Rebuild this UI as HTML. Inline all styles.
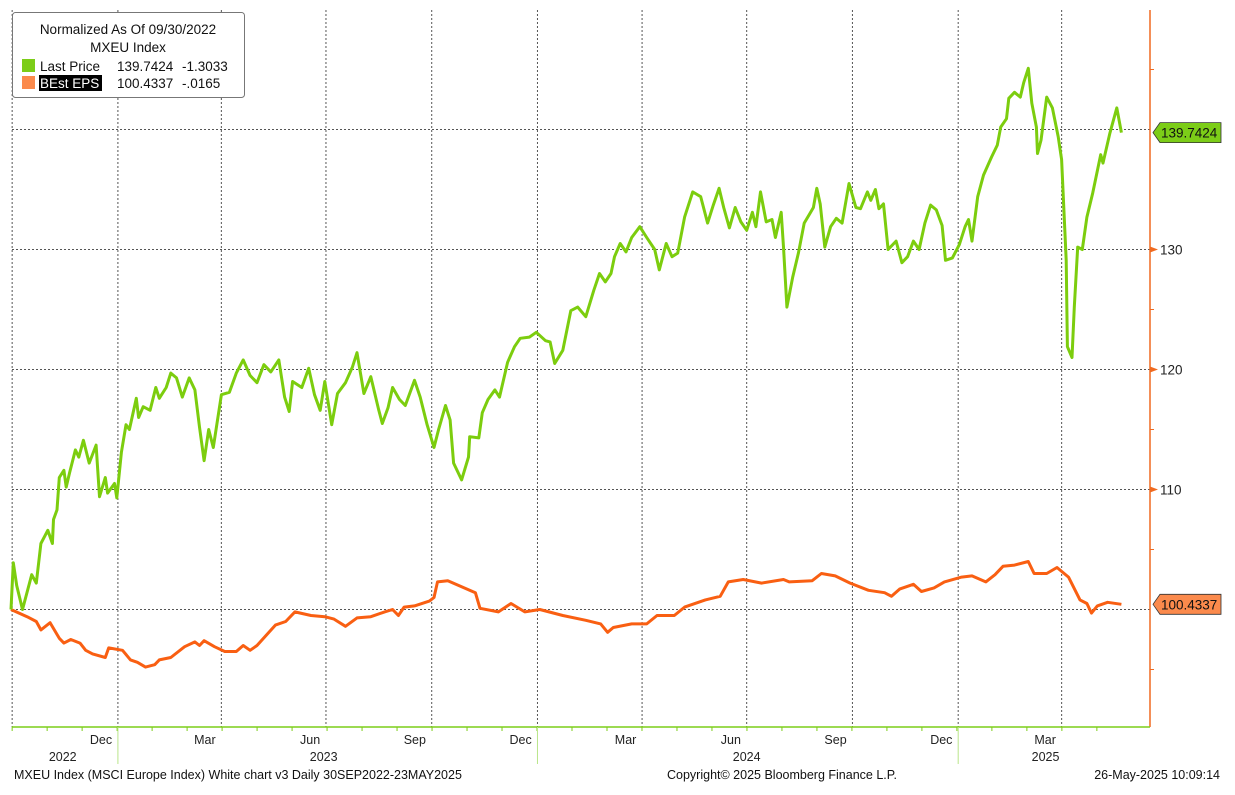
<!DOCTYPE html>
<html><head><meta charset="utf-8"><style>
html,body{margin:0;padding:0;background:#fff;}
svg{display:block;font-family:"Liberation Sans","DejaVu Sans",sans-serif;}
</style></head><body>
<svg id="chart" width="1235" height="795" viewBox="0 0 1235 795" xmlns="http://www.w3.org/2000/svg">
<g id="grid"></g>
<g id="series"></g>
<g id="axes"></g>
<g>
  <rect x="12.5" y="12.5" width="232" height="85" rx="3" fill="#fff" stroke="#777" stroke-width="1"/>
  <text x="128" y="34" font-size="13.5" text-anchor="middle" fill="#111">Normalized As Of 09/30/2022</text>
  <text x="128" y="52" font-size="13.5" text-anchor="middle" fill="#111">MXEU Index</text>
  <rect x="22" y="59" width="13" height="13" fill="#7ccd18"/>
  <text x="40" y="71" font-size="13.5" fill="#111">Last Price</text>
  <text x="117" y="71" font-size="13.5" fill="#111">139.7424</text>
  <text x="182" y="71" font-size="13.5" fill="#111">-1.3033</text>
  <rect x="22" y="76" width="13" height="13" fill="#fb8a4c"/>
  <rect x="39" y="75" width="63" height="16" fill="#000"/>
  <text x="40" y="88" font-size="13.5" fill="#fff">BEst EPS</text>
  <text x="117" y="88" font-size="13.5" fill="#111">100.4337</text>
  <text x="182" y="88" font-size="13.5" fill="#111">-.0165</text>
</g>
<text x="14" y="779" font-size="12.5" fill="#111">MXEU Index (MSCI Europe Index) White chart v3  Daily 30SEP2022-23MAY2025</text>
<text x="667" y="779" font-size="12.5" fill="#111">Copyright© 2025 Bloomberg Finance L.P.</text>
<text x="1220" y="779" font-size="12.5" fill="#111" text-anchor="end">26-May-2025 10:09:14</text>
</svg>
<script>
// day offsets from 2022-09-30 and values
const priceDays = [0,2,5,10,18,22,26,32,36,37,40,42,46,48,51,56,59,63,68,74,77,82,84,90,92,96,100,103,109,111,115,121,126,129,135,139,144,149,155,160,164,168,172,176,180,183,190,196,202,208,214,220,226,233,238,242,245,253,259,264,269,273,279,284,291,297,301,307,313,320,323,328,332,338,343,351,356,362,368,372,378,382,385,392,398,399,407,410,415,421,425,432,438,443,451,457,465,469,473,480,487,493,500,507,512,517,522,525,530,535,540,547,553,560,564,570,575,580,586,593,600,606,611,616,620,625,630,635,640,645,648,652,657,662,665,670,672,675,680,685,690,695,698,701,704,708,713,718,723,729,735,739,745,748,752,755,759,763,770,775,780,785,790,795,800,805,810,813,819,825,830,833,836,841,846,853,858,861,866,868,873,878,881,885,888,892,893,896,901,906,911,914,918,919,923,925,928,932,936,941,948,950,956,962,966];
const priceValues = [100,103.9,102,100,102.9,102.2,105.5,106.6,105.5,107.5,108.3,111,111.6,110.2,111.4,113.3,112.7,114.1,112.2,113.7,109.4,111,109.7,110.5,109.3,113.1,115.4,115,117.6,116,116.9,116.6,118.5,117.6,118.5,119.7,119.3,117.7,119.3,118.3,115.2,112.4,115,113.5,116,117.9,118.1,119.7,120.8,119.5,118.9,120.4,119.8,120.8,117.7,116.5,119,118.5,120.1,117.9,116.6,119,115.4,118,118.9,120.2,121.4,118,119.4,116.6,115.5,116.8,118.5,117.5,117,119.1,117.7,115.4,113.5,115,117,115.8,112.2,110.8,112.7,114.4,114.3,116.4,117.5,118.3,117.7,120.6,121.9,122.6,122.7,123.1,122.4,122.3,120.5,121.6,124.9,125.2,124.4,126.6,128,127.3,128,129.4,130.5,129.8,131,131.9,131,130,128.3,130.5,129.4,129.7,132.7,134.8,134.4,132.2,133.7,135.1,133.5,131.8,133.5,132.3,131.6,133.1,131.9,134.8,132.3,132.5,131,133.1,130.2,125.2,127.7,129.7,132.2,133,133.5,135.1,133.8,130.2,131.9,132.6,132.2,135.5,133.5,133.4,134.8,134.1,135,133.4,133.8,130,130.7,128.9,129.4,130.7,130,132.2,133.7,133.3,132,129.1,129.3,130.4,131.9,132.5,130.7,134.4,136.2,137.7,138.7,140.2,140.9,142.6,143.1,142.7,143.9,145.1,142.2,140.2,138,139.1,142.7,141.8,139.4,137.5,129.1,121.9,121,125.2,130.2,130,132.7,134.7,137.9,137.2,139.7,141.8,139.7424];
const epsDays = [0,14,22,26,34,42,46,52,60,65,71,82,85,97,104,110,117,125,129,139,151,160,164,168,177,186,196,202,208,214,230,239,247,261,273,281,291,301,313,325,332,337,342,351,364,368,371,380,392,404,408,424,435,447,460,480,500,513,519,524,540,553,562,577,586,604,617,624,637,653,672,677,697,705,717,730,746,760,766,773,785,792,803,812,827,836,848,856,863,873,885,890,901,910,920,930,936,940,945,954,966];
const epsValues = [100,99.4,99,98.3,98.9,97.6,97.2,97.5,97.2,96.6,96.3,96,96.8,96.6,95.8,95.6,95.2,95.4,95.8,96,96.9,97.3,97,97.4,96.9,96.5,96.5,97,96.6,97,98.7,99,99.8,99.5,99.4,99.2,98.6,99.3,99.4,99.8,100,99.5,100.2,100.3,100.7,101,102.3,102.4,101.9,101.4,100.1,99.8,100.5,99.8,100,99.5,99.1,98.8,98.1,98.5,98.8,98.8,99.5,99.5,100.2,100.8,101.1,102.3,102.5,102.2,102.5,102.3,102.4,103,102.8,102.2,101.6,101.4,101.1,101.7,102.1,101.5,101.8,102.3,102.7,102.8,102.3,102.9,103.6,103.7,104,103,103,103.5,102.7,100.8,100.5,99.7,100.3,100.6,100.4337];
const yTicks = [110,120,130];
const yGrid = [100,110,120,130,140];
const quarterDays = [1,93,183,274,366,458,549,640,732,824,914];
const monthLabels = ["Dec","Mar","Jun","Sep","Dec","Mar","Jun","Sep","Dec","Mar"];
const monthLabelEndDays = [88,178,269,361,453,544,635,727,819,909];
const yearLabels = ["2022","2023","2024","2025"];
const yearLabelDays = [45,272,640,900];
const yearSepDays = [93,458,824];

const NS="http://www.w3.org/2000/svg";
const X0=11, PXD=1.1495, Y100=609.5, PXV=12, PLOT_R=1150, PLOT_B=727;
const xs=d=>X0+d*PXD;
const ys=v=>Y100-(v-100)*PXV;
function mk(tag,attrs,parent){const e=document.createElementNS(NS,tag);for(const k in attrs)e.setAttribute(k,attrs[k]);parent.appendChild(e);return e;}
const grid=document.getElementById('grid'),series=document.getElementById('series'),axes=document.getElementById('axes');

yGrid.forEach(v=>{
  const l=mk('line',{x1:12,x2:PLOT_R,y1:ys(v),y2:ys(v),stroke:'#555','stroke-width':1,'stroke-dasharray':'2,2'},grid);
  
  
});
quarterDays.forEach(d=>{
  const l=mk('line',{x1:xs(d),x2:xs(d),y1:10,y2:PLOT_B,stroke:'#555','stroke-width':1,'stroke-dasharray':'2,2'},grid);
  
  
});

function line(days,vals,color,name){
  const p=days.map((d,i)=>(i?'L':'M')+xs(d).toFixed(1)+','+ys(vals[i]).toFixed(1)).join(' ');
  const e=mk('path',{d:p,fill:'none',stroke:color,'stroke-width':3,'stroke-linejoin':'round'},series);
  
  
}
line(epsDays,epsValues,'#f95f12','best-eps-line');
line(priceDays,priceValues,'#7ccd0e','last-price-line');

const ra=mk('line',{x1:PLOT_R,x2:PLOT_R,y1:10,y2:PLOT_B,stroke:'#f06a20','stroke-width':1.5},axes);


const ba=mk('line',{x1:12,x2:PLOT_R,y1:PLOT_B,y2:PLOT_B,stroke:'#7ccd18','stroke-width':1.5},axes);


yTicks.forEach(v=>{
  const t=mk('path',{d:`M${PLOT_R},${ys(v)-3} L${PLOT_R+8},${ys(v)} L${PLOT_R},${ys(v)+3}Z`,fill:'#f06a20'},axes);
  
  
  const tx=mk('text',{x:PLOT_R+10,y:ys(v)+5,'font-size':13.5,fill:'#222'},axes);
  tx.textContent=String(v);
  
  
});
[ys(145),ys(125),ys(115),ys(105),ys(95)].forEach(y=>{
  const t=mk('line',{x1:PLOT_R,x2:PLOT_R+4,y1:y,y2:y,stroke:'#f06a20','stroke-width':1},axes);
  
  
});
for(let d=1; d<966; d+=30.44){
  const t=mk('line',{x1:xs(d),x2:xs(d),y1:PLOT_B,y2:PLOT_B+4,stroke:'#7ccd18','stroke-width':1},axes);
  
  
}
monthLabels.forEach((m,i)=>{
  const t=mk('text',{x:xs(monthLabelEndDays[i]),y:744,'font-size':12.5,fill:'#222','text-anchor':'end'},axes);
  t.textContent=m;
  
  
});
yearSepDays.forEach(d=>{
  const t=mk('line',{x1:xs(d),x2:xs(d),y1:PLOT_B,y2:764,stroke:'#b9e58a','stroke-width':1},axes);
  
  
});
yearLabels.forEach((y,i)=>{
  const t=mk('text',{x:xs(yearLabelDays[i]),y:761,'font-size':12.5,fill:'#222','text-anchor':'middle'},axes);
  t.textContent=y;
  
  
});
function tag(v,color,label,name){
  const y=ys(v);
  const g=mk('g',{},axes);
  
  
  mk('path',{d:`M${PLOT_R+3},${y} L${PLOT_R+10},${y-10} L1221,${y-10} L1221,${y+10} L${PLOT_R+10},${y+10}Z`,fill:color,stroke:'#333','stroke-width':0.8},g);
  const t=mk('text',{x:PLOT_R+11,y:y+5,'font-size':13.5,fill:'#111'},g);
  t.textContent=label;
}
tag(priceValues[priceValues.length-1],'#7ccd18','139.7424','last-price-tag');
tag(epsValues[epsValues.length-1],'#fb8a4c','100.4337','best-eps-tag');
</script>
</body></html>
